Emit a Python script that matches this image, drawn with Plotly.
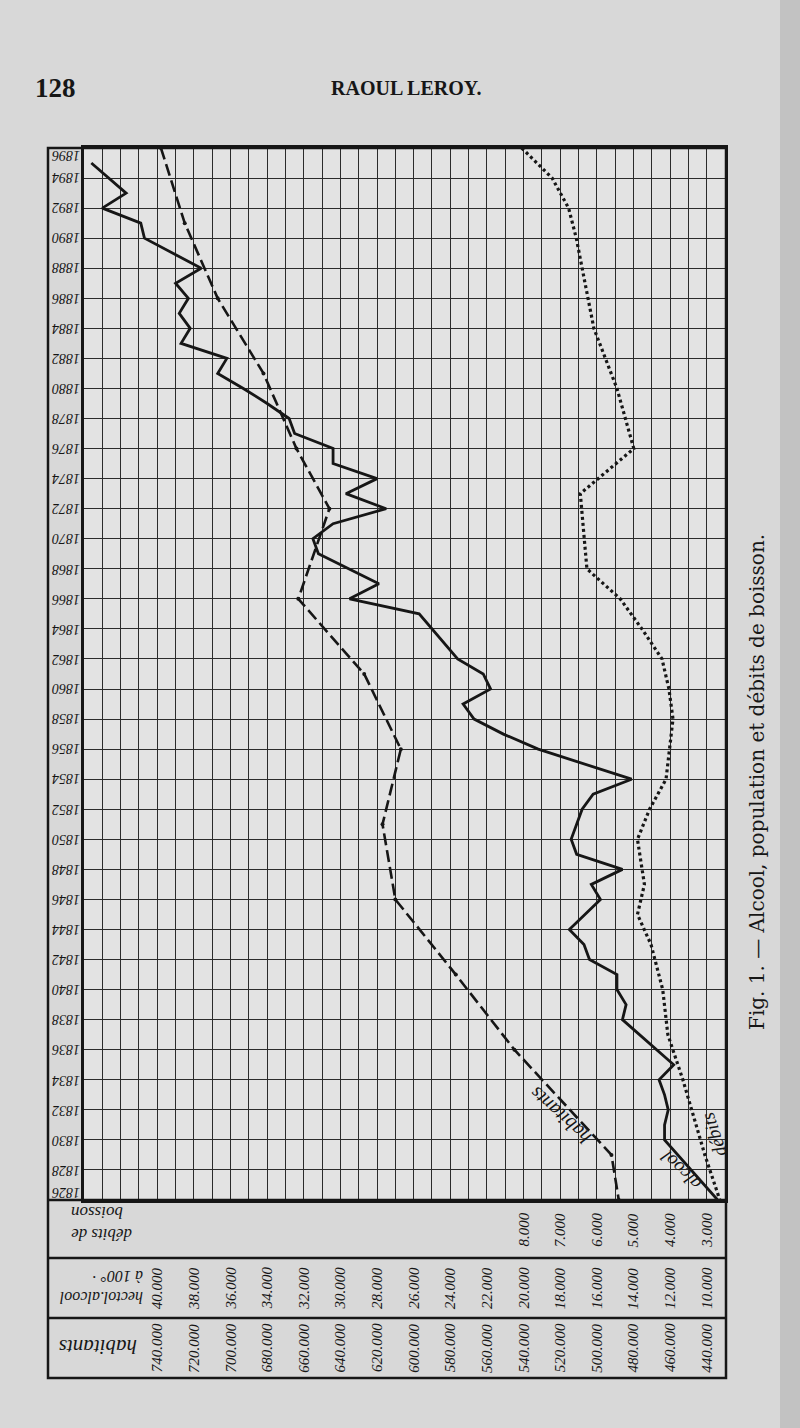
import plotly.graph_objects as go

# alcool (hectolitres a 100 degres), trait plein
alc_years = [1895, 1893, 1892, 1891, 1890, 1888, 1887, 1886, 1885, 1884,
             1883, 1882, 1881, 1880, 1879, 1878, 1877, 1876, 1875, 1874,
             1873, 1872, 1871, 1870, 1869, 1867, 1866, 1865, 1862, 1861,
             1860, 1859, 1858, 1857, 1856, 1854, 1853, 1852, 1851, 1850,
             1849, 1848, 1847, 1846, 1844, 1843, 1842, 1841, 1840, 1839,
             1838, 1835, 1834, 1833, 1832, 1831, 1830, 1826]
alc_values = [43.6, 41.7, 43.0, 40.9, 40.7, 37.6, 39.0, 38.3, 38.8, 38.2,
              38.7, 36.2, 36.7, 35.3, 34.0, 32.8, 32.5, 30.4, 30.4, 28.0,
              29.7, 27.5, 30.4, 31.5, 31.2, 27.9, 29.5, 25.7, 23.6, 22.2,
              21.8, 23.3, 22.7, 21.1, 19.2, 14.1, 16.2, 16.8, 17.1, 17.4,
              17.1, 14.6, 16.3, 15.8, 17.5, 16.7, 16.4, 14.9, 14.9, 14.4,
              14.6, 11.8, 12.6, 12.3, 12.1, 12.3, 12.3, 9.4]

# habitants, trait interrompu
hab_years = [1896, 1891, 1886, 1881, 1876, 1872, 1866, 1861, 1856, 1851,
             1846, 1841, 1836, 1829, 1826]
hab_values = [738, 725, 707, 682, 664, 646, 663, 627, 607, 617,
              610, 577, 545, 492, 488]

# debits de boisson, pointille
deb_years = [1896, 1894, 1892, 1890, 1884, 1880, 1878, 1876, 1873, 1868,
             1866, 1864, 1862, 1860, 1858, 1856, 1854, 1852, 1850, 1847,
             1845, 1843, 1840, 1837, 1834, 1829, 1826]
deb_values = [8.05, 7.22, 6.77, 6.56, 6.08, 5.45, 5.22, 4.99, 6.45, 6.27,
              5.36, 4.77, 4.22, 4.03, 3.92, 4.02, 4.11, 4.56, 4.89, 4.70,
              4.89, 4.52, 4.20, 4.06, 3.65, 3.05, 2.64]

# graduations
year_ticks = list(range(1826, 1897, 2))
hab_ticks = list(range(740, 439, -20))
alc_ticks = list(range(40, 9, -2))
deb_ticks = [8, 7, 6, 5, 4, 3]

W, H = 800, 1428


def px(x):
    return x / W


def py(y):
    return 1 - y / H


INK = "#161616"
SERIF = "Liberation Serif"
fig = go.Figure()

fig.add_trace(go.Scatter(x=hab_values, y=hab_years, xaxis="x", yaxis="y",
                         mode="lines+markers",
                         line=dict(color=INK, width=2.6, dash="12px,5px"),
                         marker=dict(color=INK, size=4)))
fig.add_trace(go.Scatter(x=alc_values, y=alc_years, xaxis="x2", yaxis="y",
                         mode="lines", line=dict(color=INK, width=2.8)))
fig.add_trace(go.Scatter(x=deb_values, y=deb_years, xaxis="x3", yaxis="y",
                         mode="lines", line=dict(color=INK, width=3.2, dash="3px,3px")))

dom_x = [px(84), px(725)]
dom_y = [py(1200), py(148)]


def note(**kw):
    kw.setdefault("showarrow", False)
    kw.setdefault("xanchor", "center")
    kw.setdefault("yanchor", "middle")
    return kw


def italic(size):
    return dict(family=SERIF, size=size, color=INK, style="italic")


annotations = []
for yr in year_ticks:
    shift = 0
    if yr == 1896:
        shift = -7
    if yr == 1826:
        shift = 7
    annotations.append(note(x=px(66), xref="paper", y=yr, yref="y", text=str(yr),
                            textangle=180, yshift=shift, font=italic(14)))
for v in hab_ticks:
    annotations.append(note(x=v, xref="x", y=py(1348), yref="paper", text=f"{v}.000",
                            textangle=-90, font=italic(15)))
for v in alc_ticks:
    annotations.append(note(x=v, xref="x2", y=py(1288), yref="paper", text=f"{v}.000",
                            textangle=-90, font=italic(15)))
for v in deb_ticks:
    annotations.append(note(x=v, xref="x3", y=py(1230), yref="paper", text=f"{v}.000",
                            textangle=-90, font=italic(15)))

# en-tetes des lignes de graduation
annotations += [
    note(x=px(102), y=py(1224), xref="paper", yref="paper", text="débits de<br>boisson",
         textangle=180, align="right", font=italic(17)),
    note(x=px(101), y=py(1287), xref="paper", yref="paper", text="hectol.alcool<br>à 100° ·",
         textangle=180, align="left", font=italic(16)),
    note(x=px(98), y=py(1347), xref="paper", yref="paper", text="habitants",
         textangle=180, font=italic(21)),
]

# noms des courbes
annotations += [
    note(x=520, xref="x", y=1831.6, yref="y", text="habitants", textangle=-138,
         font=italic(20)),
    note(x=11.4, xref="x2", y=1828, yref="y", text="alcool", textangle=-136,
         font=italic(19)),
    note(x=2.8, xref="x3", y=1830.3, yref="y", text="débits", textangle=-108,
         font=italic(19)),
]

# page
annotations += [
    note(x=px(55), y=py(88), xref="paper", yref="paper", text="<b>128</b>",
         font=dict(family=SERIF, size=27, color=INK)),
    note(x=px(406), y=py(88), xref="paper", yref="paper", text="<b>RAOUL LEROY.</b>",
         font=dict(family=SERIF, size=20, color=INK)),
    note(x=px(757), y=py(782), xref="paper", yref="paper",
         text="Fig. 1. — Alcool, population et débits de boisson.",
         textangle=-90, font=dict(family="DejaVu Serif", size=20, color=INK)),
]

shapes = [
    dict(type="rect", xref="paper", yref="paper", x0=px(780), x1=1, y0=0, y1=1,
         fillcolor="#c2c2c2", line=dict(width=0), layer="below"),
    dict(type="rect", xref="paper", yref="paper", x0=px(48), x1=px(726),
         y0=py(1378), y1=py(148), line=dict(color=INK, width=2.5)),
]
for yy in [1200, 1258, 1318]:
    shapes.append(dict(type="line", xref="paper", yref="paper", x0=px(48), x1=px(726),
                       y0=py(yy), y1=py(yy), line=dict(color=INK, width=2.5)))

fig.update_layout(
    width=W, height=H, margin=dict(l=0, r=0, t=0, b=0),
    paper_bgcolor="#d8d8d8", plot_bgcolor="#e3e3e3",
    showlegend=False,
    xaxis=dict(domain=dom_x, range=[780, 430], tick0=0, dtick=10,
               showgrid=True, gridcolor="#2b2b2b", gridwidth=1,
               showticklabels=False, ticks="", zeroline=False,
               showline=True, mirror=True, linecolor=INK, linewidth=2.5),
    xaxis2=dict(overlaying="x", anchor="y", range=[44, 9], visible=False),
    xaxis3=dict(overlaying="x", anchor="y", range=[20, 2.5], visible=False),
    yaxis=dict(domain=dom_y, range=[1826, 1896], tick0=1826, dtick=2,
               showgrid=True, gridcolor="#2b2b2b", gridwidth=1.2,
               showticklabels=False, ticks="", zeroline=False,
               showline=True, mirror=True, linecolor=INK, linewidth=2.5),
    annotations=annotations,
    shapes=shapes,
)

fig.write_html("out.html", config={"displayModeBar": False},
               post_script="document.body.style.margin='0px';")
